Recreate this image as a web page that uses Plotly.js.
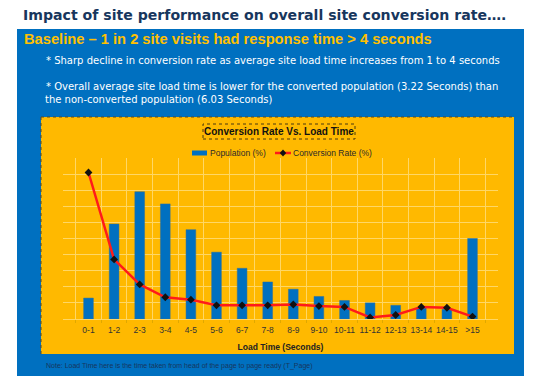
<!DOCTYPE html>
<html><head><meta charset="utf-8">
<script src="https://cdn.plot.ly/plotly-3.0.1.min.js"></script>
<style>html,body{margin:0;padding:0;background:#fff;}#chart{width:546px;height:380px;}</style>
</head><body><div id="chart"></div>
<script>
const categories = ["0-1","1-2","2-3","3-4","4-5","5-6","6-7","7-8","8-9","9-10","10-11","11-12","12-13","13-14","14-15",">15"];
const populationPct = [2.6, 11.8, 15.8, 14.3, 11.1, 8.3, 6.3, 4.6, 3.7, 2.8, 2.3, 2.0, 1.7, 1.4, 1.2, 10.0];
const conversionRatePct = [18.2, 7.4, 4.3, 2.7, 2.4, 1.7, 1.7, 1.7, 1.8, 1.6, 1.5, 0.2, 0.5, 1.5, 1.4, 0.3];
const seriesNames = ['Population (%)', 'Conversion Rate (%)'];

const W = 546, H = 380;
const px = x => x / W;
const py = y => 1 - y / H;
const BLUE = '#0070C0', RED = '#FF1A1A';

const traces = [
  {type:'bar', name:seriesNames[0], x:categories, y:populationPct,
   marker:{color:BLUE, line:{color:'#2f6f9f', width:0.5}}, hoverinfo:'none'},
  {type:'scatter', mode:'lines+markers', name:seriesNames[1], x:categories, y:conversionRatePct,
   line:{color:RED, width:2.5}, marker:{color:'#111', symbol:'diamond', size:6}, hoverinfo:'none'}
];

// legend drawn as shapes + text (matching the original wide swatches)
const legY = 153;
const dx = 3.2, dy = 3.6, mx = 283;
const legendShapes = [
  {type:'rect', xref:'paper', yref:'paper', x0:px(192), x1:px(207), y0:py(155.5), y1:py(150.5),
   fillcolor:BLUE, line:{width:0}},
  {type:'line', xref:'paper', yref:'paper', x0:px(275), x1:px(291), y0:py(legY), y1:py(legY),
   line:{color:RED, width:2.5}},
  {type:'path', xref:'paper', yref:'paper',
   path:`M ${px(mx)} ${py(legY-dy)} L ${px(mx+dx)} ${py(legY)} L ${px(mx)} ${py(legY+dy)} L ${px(mx-dx)} ${py(legY)} Z`,
   fillcolor:'#111', line:{width:0}}
];

const layout = {
  width: W, height: H,
  margin:{l:0,r:0,t:0,b:0},
  paper_bgcolor:'#FFFFFF', plot_bgcolor:'rgba(0,0,0,0)',
  showlegend:false,
  bargap:0.62,
  xaxis:{domain:[px(63), px(498)], type:'category', tickson:'boundaries', showgrid:true,
    gridcolor:'#FFD766', gridwidth:1, ticks:'outside', ticklen:3, tickcolor:'#E0A800', tickangle:0,
    ticklabelstandoff:3,
    tickfont:{family:'Liberation Sans, Arial', size:8.5, color:'#333'},
    showline:true, linecolor:'#FFD766', linewidth:1,
    title:{text:'<b>Load Time (Seconds)</b>', font:{family:'Liberation Sans, Arial', size:8.5, color:'#222'}, standoff:9},
    fixedrange:true},
  yaxis:{domain:[py(319), py(158)], range:[0,20], dtick:2, showticklabels:false, showgrid:true,
    gridcolor:'#FFD766', gridwidth:1, zeroline:false, fixedrange:true},
  shapes:[
    {type:'rect', xref:'paper', yref:'paper', x0:px(17), x1:px(524), y0:py(376), y1:py(29),
     fillcolor:BLUE, line:{width:0}, layer:'below'},
    {type:'rect', xref:'paper', yref:'paper', x0:px(41), x1:px(514), y0:py(354), y1:py(117),
     fillcolor:'#FFB900', line:{width:0}, layer:'below'},
    {type:'line', xref:'paper', yref:'paper', x0:px(41), x1:px(514), y0:py(117), y1:py(117),
     line:{color:'#5a4a20', width:1, dash:'dot'}, layer:'below'},
    {type:'line', xref:'paper', yref:'paper', x0:px(41), x1:px(41), y0:py(354), y1:py(117),
     line:{color:'#5a4a20', width:1, dash:'dot'}, layer:'below'},
    {type:'rect', xref:'paper', yref:'paper', x0:px(203), x1:px(355), y0:py(139), y1:py(124),
     line:{color:'#4a3a10', width:1, dash:'dot'}, fillcolor:'rgba(0,0,0,0)', layer:'above'}
  ].concat(legendShapes),
  annotations:[
    {xref:'paper', yref:'paper', x:px(21), y:py(15.5), xanchor:'left', yanchor:'middle', showarrow:false,
     text:'<b>Impact of site performance on overall site conversion rate….</b>',
     font:{family:'DejaVu Sans', size:14.1, color:'#17365D'}},
    {xref:'paper', yref:'paper', x:px(22), y:py(39), xanchor:'left', yanchor:'middle', showarrow:false,
     text:'<b>Baseline – 1 in 2 site visits had response time &gt; 4 seconds</b>',
     font:{family:'Liberation Sans, Arial', size:14.7, color:'#FFC000'}},
    {xref:'paper', yref:'paper', x:px(44), y:py(60.5), xanchor:'left', yanchor:'middle', showarrow:false,
     text:'* Sharp decline in conversion rate as average site load time increases from 1 to 4 seconds',
     font:{family:'DejaVu Sans', size:10, color:'#FFFFFF'}},
    {xref:'paper', yref:'paper', x:px(44), y:py(87), xanchor:'left', yanchor:'middle', showarrow:false,
     text:'* Overall average site load time is lower for the converted population (3.22 Seconds) than',
     font:{family:'DejaVu Sans', size:10, color:'#FFFFFF'}},
    {xref:'paper', yref:'paper', x:px(43), y:py(100), xanchor:'left', yanchor:'middle', showarrow:false,
     text:'the non-converted population (6.03 Seconds)',
     font:{family:'DejaVu Sans', size:10, color:'#FFFFFF'}},
    {xref:'paper', yref:'paper', x:px(279), y:py(131.5), xanchor:'center', yanchor:'middle', showarrow:false,
     text:'<b>Conversion Rate Vs. Load Time</b>',
     font:{family:'Liberation Sans, Arial', size:10, color:'#111'}},
    {xref:'paper', yref:'paper', x:px(208), y:py(legY), xanchor:'left', yanchor:'middle', showarrow:false,
     text:seriesNames[0], font:{family:'Liberation Sans, Arial', size:8.5, color:'#2a2a2a'}},
    {xref:'paper', yref:'paper', x:px(291), y:py(legY), xanchor:'left', yanchor:'middle', showarrow:false,
     text:seriesNames[1], font:{family:'Liberation Sans, Arial', size:8.5, color:'#2a2a2a'}},
    {xref:'paper', yref:'paper', x:px(44), y:py(366), xanchor:'left', yanchor:'middle', showarrow:false,
     text:'Note: Load Time here is the time taken from head of the page to page ready (T_Page)',
     font:{family:'Liberation Sans, Arial', size:7, color:'#17365D'}}
  ]
};

Plotly.newPlot('chart', traces, layout, {displayModeBar:false, staticPlot:true});
</script></body></html>
